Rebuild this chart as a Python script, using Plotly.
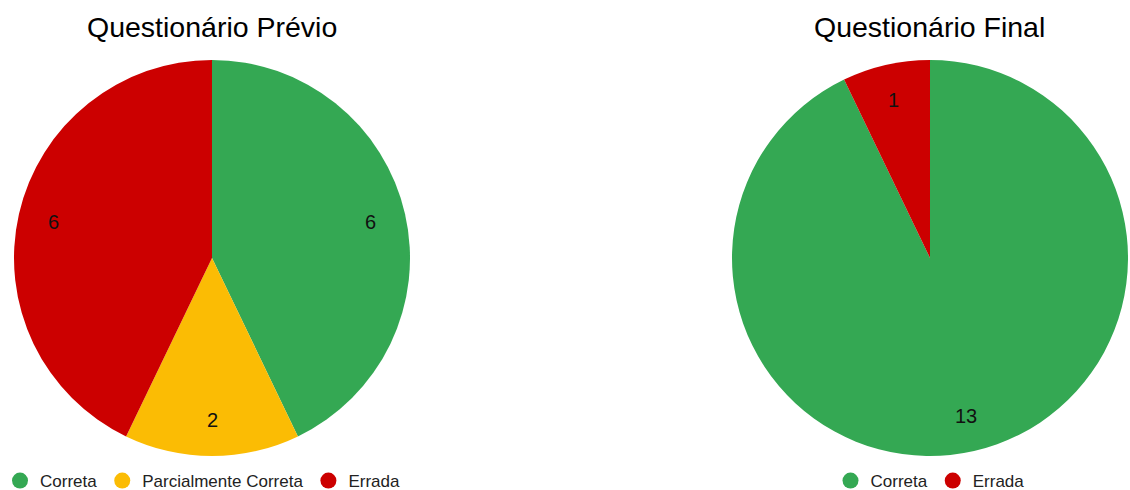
import math
import plotly.graph_objects as go

# Answers to the questionnaire, before and after
labels_previo = ["Correta", "Parcialmente Correta", "Errada"]
values_previo = [6, 2, 6]
labels_final = ["Correta", "Errada"]
values_final = [13, 1]
titles = ["Questionário Prévio", "Questionário Final"]

colors = {"Correta": "#34a853", "Parcialmente Correta": "#fbbc04", "Errada": "#cc0000"}

W, H = 1130, 490
R = 198                       # pie radius in px
centers = [(212, 258), (930, 258)]
LABEL_R = 0.82                # radial position of the value labels
FONT = "Liberation Sans, Arial, sans-serif"

fig = go.Figure()
annotations = []

pies = [(labels_previo, values_previo), (labels_final, values_final)]
for i, ((labels, values), (cx, cy), title) in enumerate(zip(pies, centers, titles)):
    dom_x = [(cx - R) / W, (cx + R) / W]
    dom_y = [1 - (cy + R) / H, 1 - (cy - R) / H]
    fig.add_trace(go.Pie(
        labels=labels, values=values,
        marker=dict(colors=[colors[l] for l in labels], line=dict(width=0)),
        sort=False, direction="clockwise", rotation=0,
        textinfo="none", showlegend=False,
        domain=dict(x=dom_x, y=dom_y),
    ))
    # value labels placed along each slice's bisector
    total = sum(values)
    acc = 0
    for v in values:
        mid = (acc + v / 2) / total * 2 * math.pi
        acc += v
        px = cx + LABEL_R * R * math.sin(mid)
        py = cy - LABEL_R * R * math.cos(mid)
        annotations.append(dict(
            x=px / W, y=1 - py / H, xref="paper", yref="paper",
            text=str(v), showarrow=False,
            font=dict(family=FONT, size=20, color="#111111"),
            xanchor="center", yanchor="middle",
        ))
    annotations.append(dict(
        x=cx / W, y=1 - 27 / H, xref="paper", yref="paper",
        text=title, showarrow=False,
        font=dict(family=FONT, size=28.5, color="#000000"),
        xanchor="center", yanchor="middle",
    ))

    # legend entries with round markers
    legend_name = "legend" if i == 0 else "legend2"
    for l in labels:
        fig.add_trace(go.Scatter(
            x=[None], y=[None], mode="markers", name=l,
            marker=dict(size=16, color=colors[l], symbol="circle"),
            legend=legend_name, hoverinfo="skip",
        ))

legend_style = dict(orientation="h", yref="paper", y=1 - 481 / H, yanchor="middle",
                    font=dict(family=FONT, size=17, color="#222222"),
                    bgcolor="rgba(0,0,0,0)")

fig.update_layout(
    width=W, height=H, autosize=False,
    margin=dict(l=0, r=0, t=0, b=0, autoexpand=False),
    paper_bgcolor="white", plot_bgcolor="white",
    xaxis=dict(visible=False), yaxis=dict(visible=False),
    annotations=annotations,
    legend=dict(legend_style, x=0.0, xanchor="left"),
    legend2=dict(legend_style, x=930 / W, xanchor="center"),
)

fig.write_html("out.html")
